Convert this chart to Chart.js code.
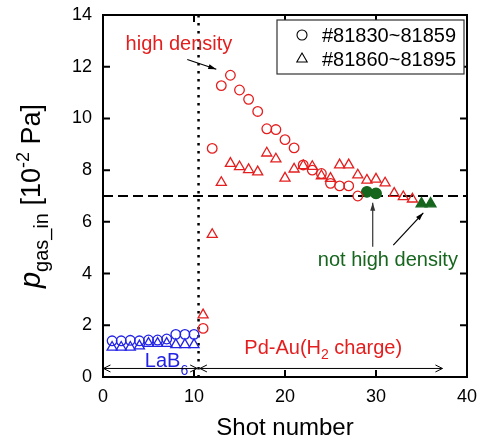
<!DOCTYPE html>
<html>
<head>
<meta charset="utf-8">
<script src="https://cdn.jsdelivr.net/npm/chart.js@4/dist/chart.umd.min.js"></script>
<style>
  html,body{margin:0;padding:0;background:#fff;}
  #wrap{width:489px;height:444px;}
</style>
</head>
<body>
<div id="wrap"><canvas id="c" width="489" height="444"></canvas></div>
<script>
// ---- data ----
const blueX = [1, 2, 3, 4, 5, 6, 7, 8, 9, 10];
const blueCircleY = [1.40, 1.40, 1.42, 1.40, 1.43, 1.43, 1.47, 1.65, 1.65, 1.65];
const blueTriY = [1.15, 1.15, 1.15, 1.20, 1.30, 1.30, 1.30, 1.25, 1.25, 1.25];
const redCircleX = [11, 12, 13, 14, 15, 16, 17, 18, 19, 20, 21, 22, 23, 24, 25, 26, 27, 28];
const redCircleY = [1.88, 8.84, 11.27, 11.67, 11.1, 10.74, 10.27, 9.6, 9.57, 9.18, 8.86, 8.2, 8.0, 7.87, 7.49, 7.39, 7.39, 7.0];
const greenCircleX = [29, 30];
const greenCircleY = [7.16, 7.1];
const redTriX = [11, 12, 13, 14, 15, 16, 17, 18, 19, 20, 21, 22, 23, 24, 25, 26, 27, 28, 29, 30, 31, 32, 33, 34];
const redTriY = [2.4, 5.51, 7.52, 8.26, 8.13, 8.02, 7.93, 8.66, 8.43, 7.69, 8.04, 8.17, 8.14, 7.78, 7.68, 8.2, 8.2, 7.81, 7.61, 7.65, 7.5, 7.1, 6.97, 6.88];
const greenTriX = [35, 36];
const greenTriY = [6.7, 6.7];
const xTicks = [0, 10, 20, 30, 40];
const yTicks = [0, 2, 4, 6, 8, 10, 12, 14];
const legendLabels = ['#81830~81859', '#81860~81895'];
const refLineY = 7;
const boundaryX = 10.5;

const RED = '#e41e1e', BLUE = '#2323e6', GREEN = '#16661e';
const FONT = "'Liberation Sans', Arial, sans-serif";

function pts(xs, ys){ return xs.map((v,i)=>({x:v, y:ys[i]})); }

function ds(xs, ys, style, color, filled, r){
  return {
    data: pts(xs, ys), pointStyle: style, showLine:false,
    borderColor: color, backgroundColor: filled ? color : 'rgba(0,0,0,0)',
    pointBorderColor: color, pointBackgroundColor: filled ? color : 'rgba(0,0,0,0)',
    pointRadius: r, pointHoverRadius: r, borderWidth: 1.3, pointBorderWidth: 1.3
  };
}

function arrowHead(ctx, x1, y1, x2, y2, len, half, filled){
  const ang = Math.atan2(y2-y1, x2-x1);
  const bx = x2 - len*Math.cos(ang), by = y2 - len*Math.sin(ang);
  const px = -Math.sin(ang)*half, py = Math.cos(ang)*half;
  ctx.beginPath();
  ctx.moveTo(bx+px, by+py); ctx.lineTo(x2, y2); ctx.lineTo(bx-px, by-py);
  if (filled){ ctx.closePath(); ctx.fill(); } else { ctx.stroke(); }
}
function arrow(ctx, x1, y1, x2, y2, opt){
  ctx.beginPath(); ctx.moveTo(x1,y1); ctx.lineTo(x2,y2); ctx.stroke();
  arrowHead(ctx, x1, y1, x2, y2, opt.len, opt.half, opt.filled);
  if (opt.both) arrowHead(ctx, x2, y2, x1, y1, opt.len, opt.half, opt.filled);
}
function runs(ctx, list, x, y, align){
  // list: [text, fontSize, dy, italic]
  let total = 0;
  list.forEach(r=>{ ctx.font = (r[3]?'italic ':'') + r[1]+'px '+FONT; total += ctx.measureText(r[0]).width; });
  let cx = align==='center' ? x - total/2 : x;
  ctx.textAlign = 'left';
  list.forEach(r=>{ ctx.font = (r[3]?'italic ':'') + r[1]+'px '+FONT; ctx.fillText(r[0], cx, y + r[2]); cx += ctx.measureText(r[0]).width; });
}

const annot = {
  id: 'annot',
  beforeDatasetsDraw(chart){
    const {ctx, chartArea:a, scales:{x, y}} = chart;
    ctx.save();
    ctx.strokeStyle = '#000';
    ctx.lineWidth = 2; ctx.setLineDash([10,5]);
    const yy = y.getPixelForValue(refLineY);
    ctx.beginPath(); ctx.moveTo(a.left, yy); ctx.lineTo(a.right, yy); ctx.stroke();
    ctx.lineWidth = 2.5; ctx.setLineDash([2.5,5.5]);
    const xx = x.getPixelForValue(boundaryX);
    ctx.beginPath(); ctx.moveTo(xx, a.top); ctx.lineTo(xx, a.bottom); ctx.stroke();
    ctx.restore();
  },
  afterDraw(chart){
    const {ctx, chartArea:a, scales:{x, y}} = chart;
    ctx.save();
    // frame
    ctx.strokeStyle = '#000'; ctx.lineWidth = 2; ctx.setLineDash([]);
    ctx.strokeRect(a.left, a.top, a.right-a.left, a.bottom-a.top);
    // inward ticks
    ctx.beginPath();
    xTicks.forEach(v=>{ const p = x.getPixelForValue(v);
      ctx.moveTo(p, a.bottom); ctx.lineTo(p, a.bottom-7);
      ctx.moveTo(p, a.top); ctx.lineTo(p, a.top+7); });
    yTicks.forEach(v=>{ const p = y.getPixelForValue(v);
      ctx.moveTo(a.left, p); ctx.lineTo(a.left+7, p);
      ctx.moveTo(a.right, p); ctx.lineTo(a.right-7, p); });
    ctx.stroke();

    // legend
    const bx = a.right - 190, by = a.top + 5, bw = 187, bh = 54;
    ctx.fillStyle = '#fff'; ctx.fillRect(bx, by, bw, bh);
    ctx.strokeStyle = '#333'; ctx.lineWidth = 1.2; ctx.strokeRect(bx, by, bw, bh);
    ctx.strokeStyle = '#000'; ctx.lineWidth = 1.1;
    ctx.beginPath(); ctx.arc(bx+25, by+15, 5, 0, Math.PI*2); ctx.stroke();
    const tr = 6, tcx = bx+25, tcy = by+39;
    ctx.beginPath();
    for (let k=0;k<3;k++){ const ang = k*2*Math.PI/3; const px = tcx + Math.sin(ang)*tr, py = tcy - Math.cos(ang)*tr; k?ctx.lineTo(px,py):ctx.moveTo(px,py); }
    ctx.closePath(); ctx.stroke();
    ctx.fillStyle = '#000'; ctx.font = '20px '+FONT; ctx.textBaseline = 'middle'; ctx.textAlign='left';
    ctx.fillText(legendLabels[0], bx+45, by+16);
    ctx.fillText(legendLabels[1], bx+45, by+40);

    // texts
    ctx.textBaseline = 'alphabetic';
    ctx.fillStyle = RED; ctx.font = '20px '+FONT; ctx.textAlign = 'center';
    ctx.fillText('high density', x.getPixelForValue(8.35), y.getPixelForValue(12.65));
    ctx.fillStyle = GREEN;
    ctx.fillText('not high density', x.getPixelForValue(31.3), y.getPixelForValue(4.28));
    ctx.fillStyle = BLUE;
    runs(ctx, [['LaB',20,0],['6',14,8]], x.getPixelForValue(4.6), y.getPixelForValue(0.39), 'left');
    ctx.fillStyle = RED;
    runs(ctx, [['Pd-Au(H',20,0],['2',14,5],[' charge)',20,0]], x.getPixelForValue(24.2), y.getPixelForValue(0.9), 'center');

    // arrows
    ctx.strokeStyle = '#000'; ctx.fillStyle = '#000'; ctx.lineWidth = 1.2;
    arrow(ctx, x.getPixelForValue(9.26), y.getPixelForValue(12.28), x.getPixelForValue(12.45), y.getPixelForValue(11.9), {len:8, half:2.5, filled:true});
    ctx.strokeStyle = '#333'; ctx.fillStyle = '#333';
    arrow(ctx, x.getPixelForValue(29.64), y.getPixelForValue(5.04), x.getPixelForValue(29.64), y.getPixelForValue(6.74), {len:8, half:2.5, filled:true});
    ctx.strokeStyle = '#000'; ctx.fillStyle = '#000';
    arrow(ctx, x.getPixelForValue(31.9), y.getPixelForValue(5.1), x.getPixelForValue(35.2), y.getPixelForValue(6.35), {len:8, half:2.5, filled:true});
    ctx.lineWidth = 1;
    const ay = y.getPixelForValue(0.33);
    arrow(ctx, x.getPixelForValue(0.05), ay, x.getPixelForValue(10.35), ay, {len:7, half:3.5, filled:false, both:true});
    arrow(ctx, x.getPixelForValue(10.65), ay, x.getPixelForValue(37.3), ay, {len:7, half:3.5, filled:false, both:true});

    // axis titles
    ctx.fillStyle = '#000'; ctx.textBaseline = 'alphabetic';
    ctx.font = '24px '+FONT; ctx.textAlign = 'center';
    ctx.fillText('Shot number', (a.left+a.right)/2, 435);
    ctx.save();
    ctx.translate(40, (a.top+a.bottom)/2);
    ctx.rotate(-Math.PI/2);
    runs(ctx, [['p',29,0,true],['gas_in',20,8],[' [10',27,0],['-2',18,-11],[' Pa]',27,0]], 0, 0, 'center');
    ctx.restore();
    ctx.restore();
  }
};

new Chart(document.getElementById('c'), {
  type: 'scatter',
  data: { datasets: [
    ds(blueX, blueCircleY, 'circle', BLUE, false, 4.8),
    ds(blueX, blueTriY, 'triangle', BLUE, false, 5.8),
    ds(redCircleX, redCircleY, 'circle', RED, false, 4.8),
    ds(redTriX, redTriY, 'triangle', RED, false, 5.8),
    ds(greenCircleX, greenCircleY, 'circle', GREEN, true, 5.3),
    ds(greenTriX, greenTriY, 'triangle', GREEN, true, 6.2)
  ]},
  options: {
    responsive: false, animation: false, devicePixelRatio: 1,
    layout: { padding: { left: 0, right: 22, top: 15, bottom: 0 } },
    plugins: { legend: {display:false}, tooltip: {enabled:false} },
    scales: {
      x: { type:'linear', min:0, max:40,
        afterBuildTicks: s => { s.ticks = xTicks.map(v=>({value:v})); },
        afterFit: s => { s.height = 67; },
        grid: {display:false, drawTicks:false}, border: {display:false},
        ticks: { color:'#000', font:{family:FONT, size:18}, padding: 9, maxRotation:0 } },
      y: { type:'linear', min:0, max:14,
        afterBuildTicks: s => { s.ticks = yTicks.map(v=>({value:v})); },
        afterFit: s => { s.width = 103; },
        grid: {display:false, drawTicks:false}, border: {display:false},
        ticks: { color:'#000', font:{family:FONT, size:18, lineHeight:0.3}, padding: 11 } }
    }
  },
  plugins: [annot]
});
</script>
</body>
</html>
